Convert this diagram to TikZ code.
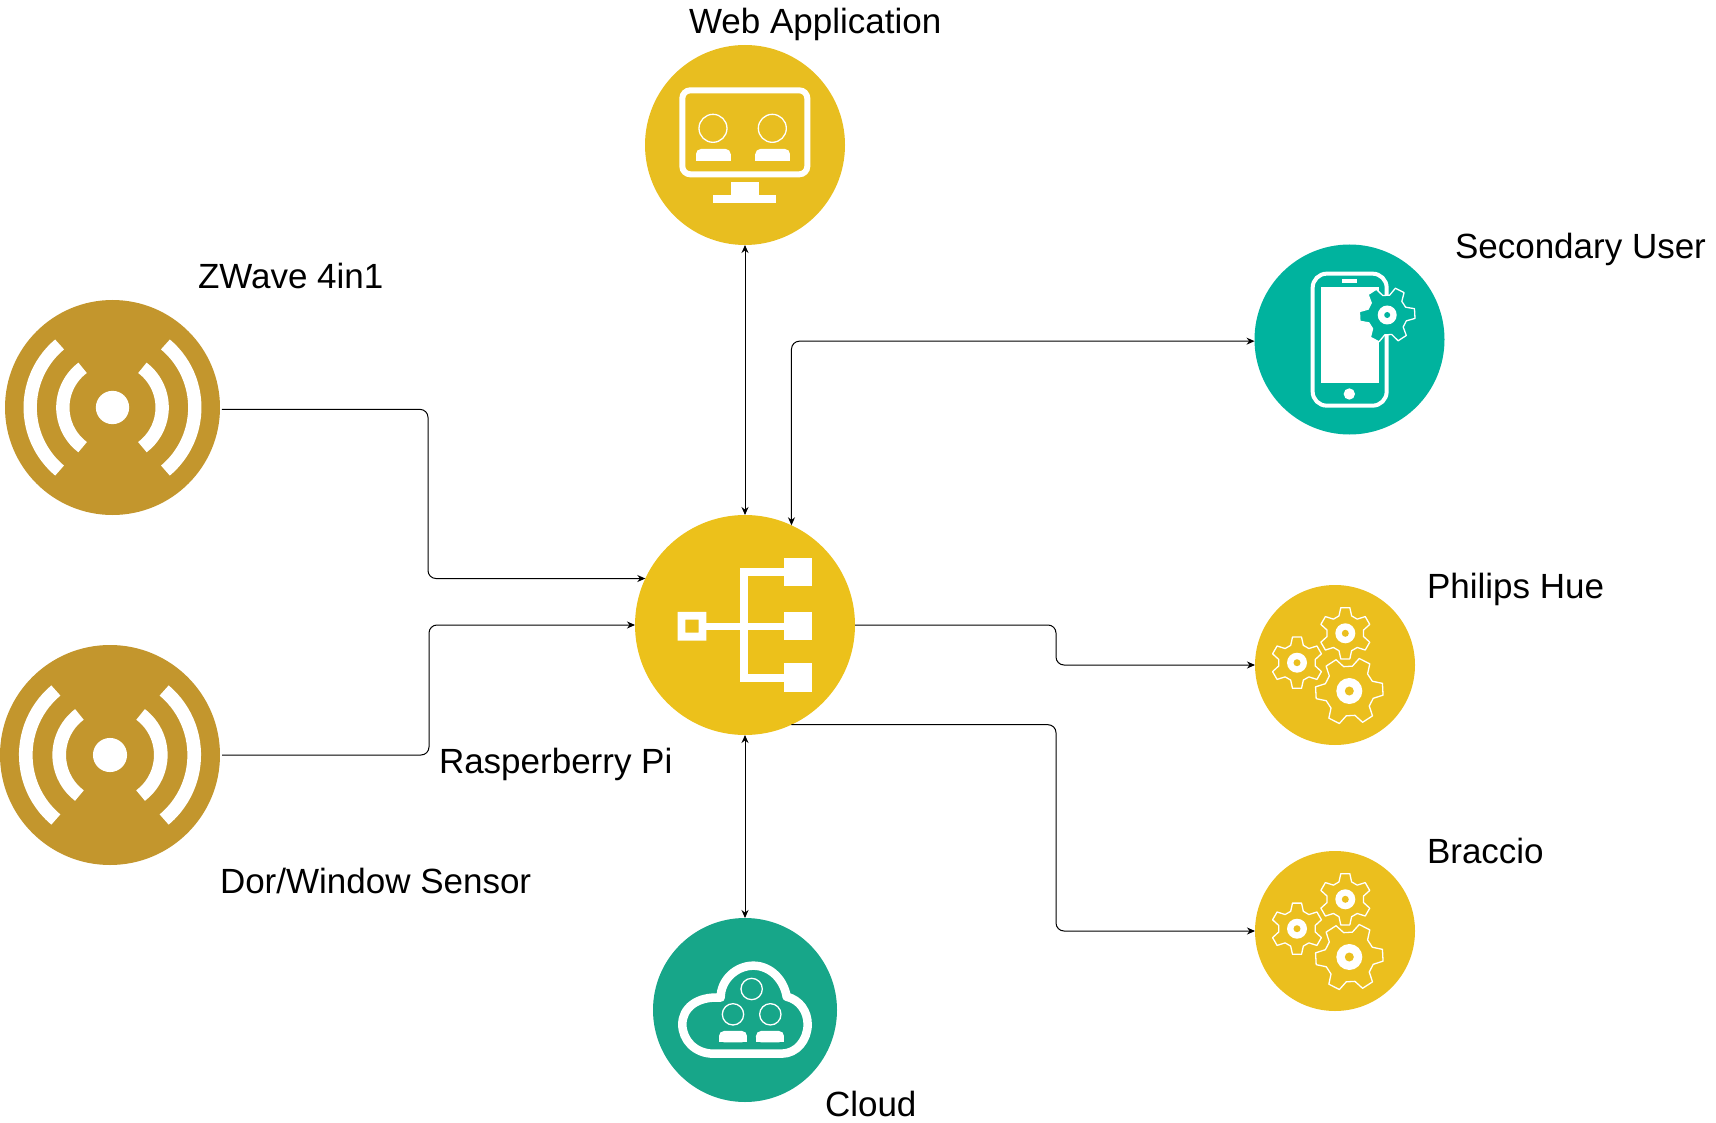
\documentclass[tikz,border=0pt]{standalone}
\usepackage{fontspec}
\setmainfont{Liberation Sans}
\usetikzlibrary{arrows.meta}
\definecolor{cbrown}{RGB}{195,150,45}
\definecolor{cyelA}{RGB}{232,190,32}
\definecolor{cyelB}{RGB}{236,193,27}
\definecolor{cyelC}{RGB}{235,191,30}
\definecolor{cteal}{RGB}{0,179,158}
\definecolor{cgreen}{RGB}{23,166,137}
\tikzset{
  hub/.style={circle,draw=none,fill=#1,inner sep=0pt,outer sep=0pt},
  lbl/.style={anchor=base west,inner sep=0pt,outer sep=0pt,font=\fontsize{35}{40}\selectfont,text=black},
  link/.style={draw=black,line width=1pt,rounded corners=8pt,>={Stealth[length=8pt,width=7pt]}},
  ico/.style={x=0.3333pt,y=-0.3333pt}
}
\newcommand\gearicon[8]{%
  \begin{scope}[shift={(#1,#2)}]
    \draw[white,line width=1.3pt,fill=#8,line join=round]
      (#5-20:#4) \foreach \a in {0,60,...,300}{ -- (#5+\a-20:#4) -- (#5+\a-10:#3) -- (#5+\a+10:#3) -- (#5+\a+20:#4)} -- cycle;
    \fill[white] (0,0) circle[radius=#6];
    \fill[#8] (0,0) circle[radius=#7];
  \end{scope}}
\newcommand\gearset[3]{%
  \begin{scope}[shift={(#1,#2)}]
    \gearicon{10.3}{-31.7}{26}{18.5}{30}{10}{3.5}{#3}
    \gearicon{-38}{-2.3}{26}{18.5}{30}{10}{3.5}{#3}
    \gearicon{14.3}{26}{34}{25}{-3}{13}{4.5}{#3}
  \end{scope}}
\newcommand\signalicon[3]{%
  \begin{scope}[shift={(#1,#2)},x=#3pt,y=#3pt]
    \pgfmathsetmacro\bandw{40*#3}
    \fill[white] (0,0) circle[radius=50];
    \draw[white,line width=\bandw pt] (130:247) arc[start angle=130,end angle=230,radius=247];
    \draw[white,line width=\bandw pt] (50:247) arc[start angle=50,end angle=-50,radius=247];
    \draw[white,line width=\bandw pt] (127:149) arc[start angle=127,end angle=233,radius=149];
    \draw[white,line width=\bandw pt] (53:149) arc[start angle=53,end angle=-53,radius=149];
  \end{scope}}
% person body: left x, top y, right x, bottom y; top corners rounded
\newcommand\personbody[4]{%
  \fill[white,rounded corners=5pt] (#1,#2) rectangle (#3,#4);
  \fill[white] (#1,#2+16) rectangle (#3,#4);}
\begin{document}
\begin{tikzpicture}[x=1pt,y=-1pt]
\useasboundingbox (0,0) rectangle (1716,1123);
% hubs
\node[hub=cyelA,minimum size=200pt] (web) at (745,145) {};
\node[hub=cteal,minimum size=190pt] (sec) at (1349.5,339.5) {};
\node[hub=cyelB,minimum size=220pt] (rpi) at (745,625) {};
\node[hub=cyelC,minimum size=160pt] (hue) at (1335,665) {};
\node[hub=cyelC,minimum size=160pt] (bra) at (1335,931) {};
\node[hub=cgreen,minimum size=184pt] (cld) at (745,1010) {};
\node[hub=cbrown,minimum size=215pt] (zw) at (112.5,407.5) {};
\node[hub=cbrown,minimum size=220pt] (dor) at (110,755) {};
% connectors: bend columns
\coordinate (c1) at (428,0);
\coordinate (c2) at (429,0);
\coordinate (c4) at (1056,0);
\draw[link,->,shorten <=2pt] (zw.359.7) -- (c1 |- zw.359.7) -- (c1 |- rpi.155) -- (rpi.155);
\draw[link,->,shorten <=2pt] (dor.east) -- (c2 |- dor.east) -- (c2 |- rpi.180.5) -- (rpi.180.5);
\draw[link,<->] (web.south) -- (rpi.north);
\draw[link,<->] (rpi.south) -- (cld.north);
\draw[link,<->] (rpi.65) -- (rpi.65 |- sec.181.2) -- (sec.181.2);
\draw[link,->] (rpi.-0.5) -- (c4 |- rpi.-0.5) -- (c4 |- hue.west) -- (hue.west);
\draw[link,->] (rpi.-65) -- (c4 |- rpi.-65) -- (c4 |- bra.180.7) -- (bra.180.7);
% web icon
\begin{scope}[shift={(630,30)},ico]
  \draw[white,line width=6pt,rounded corners=8pt] (157,181) rectangle (532,433);
  \draw[white,line width=1.3pt] (249,295) circle[radius=42];
  \draw[white,line width=1.3pt] (427,295) circle[radius=42];
  \personbody{198}{357}{302}{392}
  \personbody{376}{357}{480}{392}
  \fill[white] (304,457) rectangle (386,495);
  \fill[white] (248,495) rectangle (438,518);
\end{scope}
% secondary user icon
\begin{scope}[shift={(1250,240)},ico]
  \draw[white,line width=4pt,rounded corners=14pt] (188,101) rectangle (410,497);
  \fill[white] (212,142) rectangle (386,430);
  \fill[white] (276,118) rectangle (322,128);
  \fill[white] (298,462) circle[radius=17];
\end{scope}
\gearicon{1387.2}{315}{28}{20}{-3}{9.5}{3}{cteal}
% raspberry icon
\begin{scope}[shift={(640,510)},ico]
  \fill[white,even odd rule] (113,306) rectangle (199,392) (136,329) rectangle (176,368);
  \fill[white] (199,338) rectangle (432,360);
  \fill[white] (299,175) rectangle (324,515);
  \fill[white] (299,175) rectangle (432,198);
  \fill[white] (299,492) rectangle (432,515);
  \fill[white] (431,143) rectangle (516,229);
  \fill[white] (431,307) rectangle (516,391);
  \fill[white] (431,460) rectangle (516,546);
\end{scope}
% gears
\gearset{1335}{665}{cyelC}
\gearset{1335}{931}{cyelC}
% cloud icon
\begin{scope}[shift={(650,915)},ico]
  \draw[white,line width=8.5pt,line join=round]
    (190,416) .. controls (135,416) and (97,375) .. (97,328)
    .. controls (97,280) and (140,243) .. (212,248)
    .. controls (212,195) and (258,152) .. (310,152)
    .. controls (362,152) and (402,195) .. (410,245)
    .. controls (450,255) and (473,290) .. (473,328)
    .. controls (473,375) and (440,416) .. (395,416) -- cycle;
  \draw[white,line width=1.3pt] (305,222) circle[radius=32];
  \draw[white,line width=1.3pt] (249,298) circle[radius=32];
  \draw[white,line width=1.3pt] (361,298) circle[radius=32];
  \personbody{207}{348}{291}{382}
  \personbody{318}{348}{402}{382}
\end{scope}
% signal icons
\signalicon{112.5}{407.5}{0.3333}
\signalicon{110}{755}{0.341}
% labels
\node[lbl] (tweb) at (689,34) {Web Application};
\node[lbl] (tzw) at (198,289) {ZWave 4in1};
\node[lbl] (tsec) at (1455,258.5) {Secondary User};
\node[lbl] (thue) at (1427,598) {Philips Hue};
\node[lbl] (tbra) at (1427,863) {Braccio};
\node[lbl] (trpi) at (439,773) {Rasperberry Pi};
\node[lbl] (tdor) at (220,893.5) {Dor/Window Sensor};
\node[lbl] (tcld) at (825,1116) {Cloud};
\end{tikzpicture}
\end{document}
